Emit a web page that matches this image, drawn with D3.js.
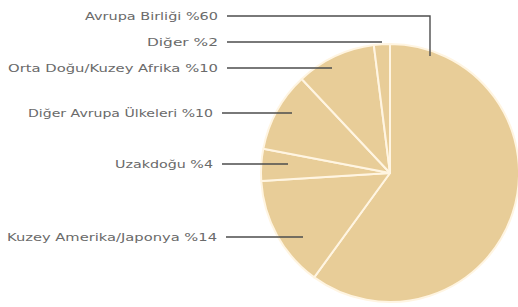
<!DOCTYPE html>
<html><head><meta charset="utf-8">
<script src="https://cdn.jsdelivr.net/npm/d3@7"></script>
<style>body{margin:0;background:#fff}svg{display:block}</style>
</head><body>
<svg id="c" width="518" height="307"></svg>
<script>
// Data
const categories = ["Avrupa Birliği", "Kuzey Amerika/Japonya", "Uzakdoğu", "Diğer Avrupa Ülkeleri", "Orta Doğu/Kuzey Afrika", "Diğer"];
const values = [60, 14, 4, 10, 10, 2];
const labels = categories.map((c, i) => c + " %" + values[i]);

// Layout (annotation positions)
const labelY = [16, 237, 164, 113, 68, 42];
const labelRight = [218, 217, 213, 213, 218, 218];
const labelWidth = [133, 210, 98, 185, 210, 71];
const leaderEnd = [[430, 56], [303, 237], [288, 164], [292, 113], [332, 68], [382, 42]];

const svg = d3.select("#c");
const cx = 390, cy = 173, r = 129;
const pie = d3.pie().sort(null).value(d => d)(values);
const arc = d3.arc().innerRadius(0).outerRadius(r);

const g = svg.append("g").attr("transform", `translate(${cx},${cy})`);
g.selectAll("path").data(pie).join("path")
  .attr("d", arc)
  .attr("fill", "#E8CD98")
  .attr("stroke", "#FFF5E2")
  .attr("stroke-width", 2)
  .attr("stroke-linejoin", "round");

// Leader lines
const lineG = svg.append("g").attr("stroke", "#4d4d4d").attr("stroke-width", 1.4).attr("fill", "none");
categories.forEach((c, i) => {
  const x0 = labelRight[i] + 9, y = labelY[i];
  const [ex, ey] = leaderEnd[i];
  if (ey !== y) {
    lineG.append("path").attr("d", `M${x0},${y}H${ex}V${ey}`);
  } else {
    lineG.append("path").attr("d", `M${x0},${y}H${ex}`);
  }
});

svg.append("g").selectAll("text").data(labels).join("text")
  .attr("x", (d, i) => labelRight[i])
  .attr("y", (d, i) => labelY[i])
  .attr("dy", "0.35em")
  .attr("text-anchor", "end")
  .attr("font-family", "DejaVu Sans, sans-serif")
  .attr("font-size", 10.5)
  .attr("fill", "#6a6a6a")
  .attr("textLength", (d, i) => labelWidth[i])
  .attr("lengthAdjust", "spacingAndGlyphs")
  .text(d => d);
</script>
</body></html>
